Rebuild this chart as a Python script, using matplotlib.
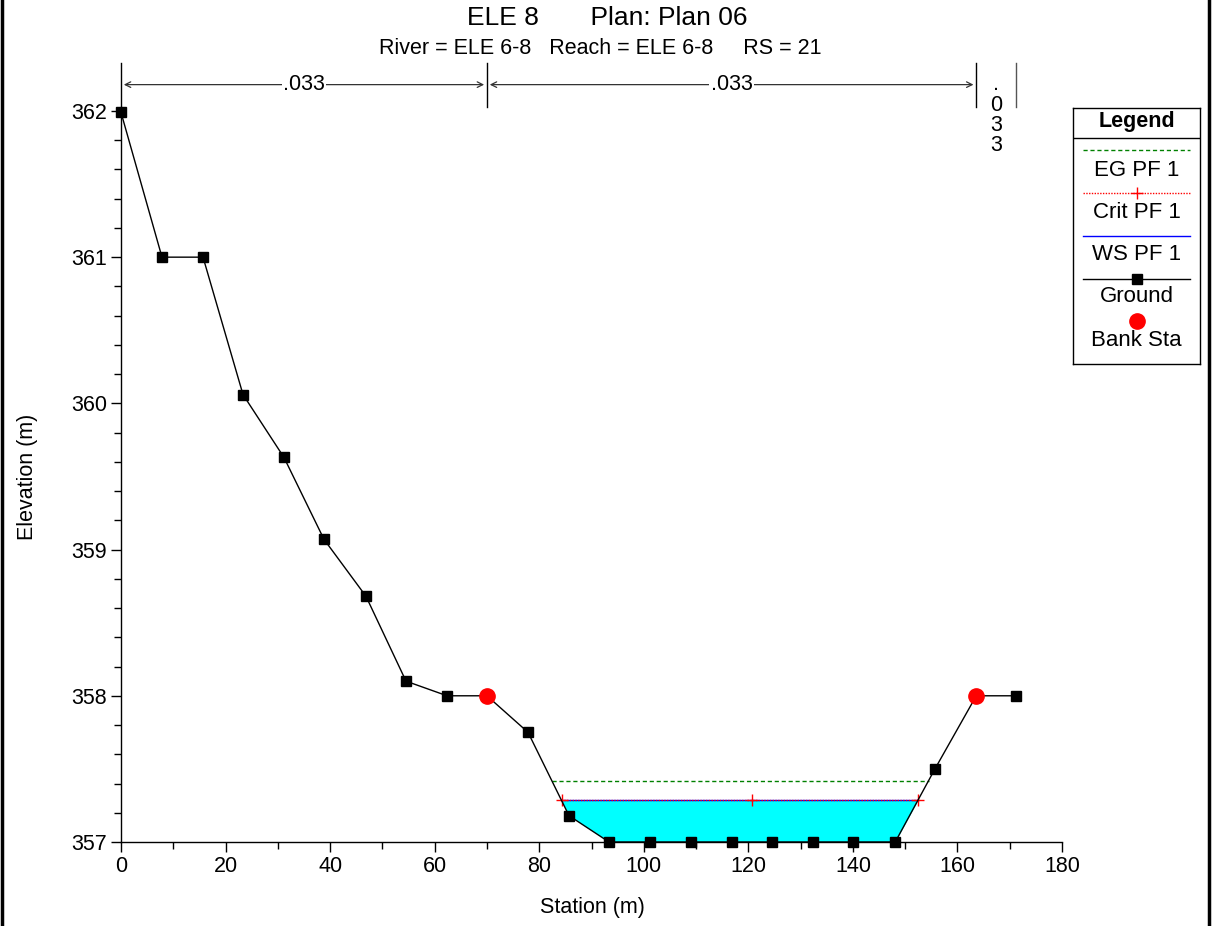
import numpy as np
import matplotlib
matplotlib.use("Agg")
import matplotlib.pyplot as plt
from matplotlib.lines import Line2D

plt.rcParams['font.family'] = ['Liberation Sans', 'DejaVu Sans']

# ---- data ----
station = [0.0, 7.84, 15.69, 23.34, 31.18, 38.83, 46.87, 54.52, 62.37, 70.0,
           77.86, 85.7, 93.35, 101.2, 109.0, 116.9, 124.5, 132.4, 140.0, 148.1,
           155.7, 163.6, 171.2]
ground = [361.99, 361.0, 361.0, 360.06, 359.63, 359.07, 358.68, 358.10, 358.0, 358.0,
          357.75, 357.18, 357.0, 357.0, 357.0, 357.0, 357.0, 357.0, 357.0, 357.0,
          357.50, 358.0, 358.0]
bank_sta = [70.0, 163.6]
bank_elev = [358.0, 358.0]
ws_elev = 357.29
eg_elev = 357.42
crit_elev = 357.29
crit_marks = [84.33, 120.7, 152.4]
n_breaks = [0.0, 70.0, 163.6, 171.2]
n_values = [".033", ".033", ".033"]

title = "ELE 8       Plan: Plan 06"
subtitle = "River = ELE 6-8   Reach = ELE 6-8     RS = 21"

x = np.array(station)
g = np.array(ground)


def crossings(level):
    xs = []
    for i in range(len(x) - 1):
        a, b = g[i] - level, g[i + 1] - level
        if a * b < 0:
            t = a / (a - b)
            xs.append(x[i] + t * (x[i + 1] - x[i]))
    return xs[0], xs[-1]


W, H = 1212, 926
fig = plt.figure(figsize=(W / 100, H / 100), dpi=100)
ax = fig.add_axes([121 / W, 1 - 842 / H, (1062 - 121) / W, (842 - 107) / H])
ax.set_xlim(0, 180)
ax.set_ylim(357, 362.027)

# water fill
ax.fill_between(x, g, ws_elev, where=g < ws_elev, interpolate=True,
                color='#00FFFF', linewidth=0, zorder=1)

# EG
el, er = crossings(eg_elev)
ax.plot([el, er], [eg_elev, eg_elev], color='#008000', linestyle=(0, (3, 2)), lw=1, zorder=2)
# WS
wl, wr = crossings(ws_elev)
ax.plot([wl, wr], [ws_elev, ws_elev], color='blue', lw=1, zorder=3)
# Crit
ax.plot([wl, wr], [crit_elev, crit_elev], color='red', linestyle=(0, (1, 1)), lw=1, zorder=4)
ax.plot(crit_marks, [crit_elev] * len(crit_marks), linestyle='none', marker='+',
        color='red', markersize=9, mew=1, zorder=5)

# ground
ax.plot(x, g, color='black', lw=1, marker='s', markersize=7, zorder=6, clip_on=False)
ax.plot(bank_sta, bank_elev, linestyle='none', marker='o', color='red', markersize=11,
        zorder=7, clip_on=False)

# n-value markers
y_top, y_bot, y_arr = 362.33, 362.03, 362.18
for i, s in enumerate(n_breaks):
    c = 'black' if i < 3 else '#555555'
    ax.plot([s, s], [y_bot, y_top], color=c, lw=1, clip_on=False)
for i in range(2):
    a, b = n_breaks[i], n_breaks[i + 1]
    ax.annotate('', xy=(a, y_arr), xytext=(b, y_arr),
                arrowprops=dict(arrowstyle='<->', color='#333333', lw=0.9), annotation_clip=False)
    ax.text((a + b) / 2, y_arr, n_values[i], ha='center', va='center', fontsize=15.5,
            bbox=dict(facecolor='white', edgecolor='none', pad=1), clip_on=False)
mid3 = (n_breaks[2] + n_breaks[3]) / 2
ax.text(mid3, 362.25, "\n".join(list(n_values[2])), ha='center', va='top',
        fontsize=15.5, linespacing=0.95, clip_on=False)

# axes styling
for sp in ['top', 'right']:
    ax.spines[sp].set_visible(False)
ax.spines['left'].set_linewidth(1)
ax.spines['bottom'].set_linewidth(1)
ax.set_xticks(np.arange(0, 181, 20))
ax.set_xticks(np.arange(0, 181, 10), minor=True)
ax.set_yticks(np.arange(357, 362.5, 1))
ax.set_yticks(np.arange(357, 362.05, 0.2), minor=True)
ax.set_yticklabels([f"{v:.0f}" for v in np.arange(357, 362.5, 1)])
ax.tick_params(which='major', length=7, width=1, labelsize=15.5, direction='out', pad=3)
ax.tick_params(which='minor', length=5, width=1, direction='out')
ax.set_xlabel("Station (m)", fontsize=15.5)
ax.set_ylabel("Elevation (m)", fontsize=15.5)
ax.xaxis.set_label_coords((592 - 121) / (1062 - 121), -(908 - 842) / (842 - 107))
ax.yaxis.set_label_coords(-(121 - 27) / (1062 - 121), (842 - 477) / (842 - 107))
ax.xaxis.label.set_va('center')
ax.yaxis.label.set_va('center')

fig.text(607 / W, 1 - 18 / H, title, ha='center', va='center', fontsize=19)
fig.text(600 / W, 1 - 48 / H, subtitle, ha='center', va='center', fontsize=15.5)

# legend
lax = fig.add_axes([1073 / W, 1 - 364 / H, 127 / W, 256 / H])
lax.set_xlim(0, 127)
lax.set_ylim(256, 0)
lax.set_xticks([])
lax.set_yticks([])
for sp in lax.spines.values():
    sp.set_linewidth(1)
lax.text(63.5, 14, "Legend", ha='center', va='center', fontsize=15.5, fontweight='bold')
lax.plot([0, 127], [30, 30], color='black', lw=1)
lx = [10, 117]
lax.plot(lx, [42, 42], color='#008000', linestyle=(0, (3, 2)), lw=1)
lax.text(63.5, 62, "EG PF 1", ha='center', va='center', fontsize=16)
lax.plot(lx, [85, 85], color='red', linestyle=(0, (1, 1)), lw=1)
lax.plot([63.5], [85], marker='+', color='red', markersize=9, mew=1)
lax.text(63.5, 104, "Crit PF 1", ha='center', va='center', fontsize=16)
lax.plot(lx, [128, 128], color='blue', lw=1)
lax.text(63.5, 146, "WS PF 1", ha='center', va='center', fontsize=16)
lax.plot(lx, [171, 171], color='black', lw=1)
lax.plot([63.5], [171], marker='s', color='black', markersize=7)
lax.text(63.5, 189, "Ground", ha='center', va='center', fontsize=16)
lax.plot([63.5], [213], marker='o', color='red', markersize=11)
lax.text(63.5, 232, "Bank Sta", ha='center', va='center', fontsize=16)

# figure border
fig.add_artist(Line2D([1.5 / W, 1.5 / W], [0, 1], color='black', lw=2.5))
fig.add_artist(Line2D([1 - 3.5 / W, 1 - 3.5 / W], [0, 1], color='black', lw=2.5))

fig.savefig("out.png", dpi=100)
